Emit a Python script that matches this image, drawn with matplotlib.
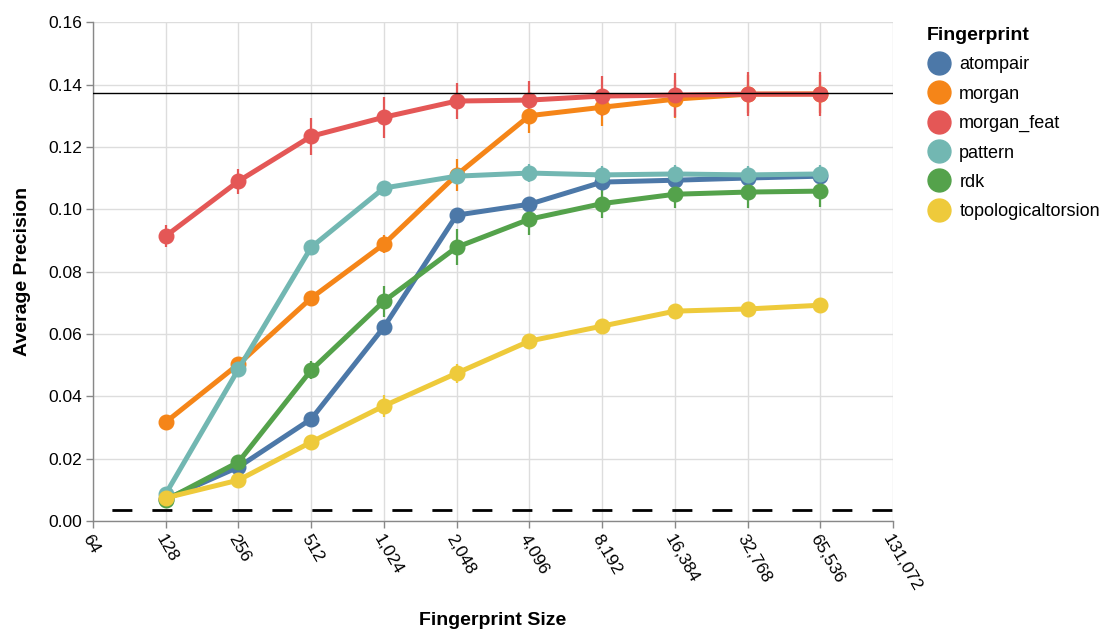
import numpy as np
import matplotlib.pyplot as plt
from matplotlib.lines import Line2D
from matplotlib.ticker import FixedLocator, FuncFormatter

plt.rcParams['font.family'] = ['Liberation Sans', 'DejaVu Sans']

# fingerprint sizes (bits) and mean average precision per fingerprint type
sizes = [128, 256, 512, 1024, 2048, 4096, 8192, 16384, 32768, 65536]
names = ['atompair', 'morgan', 'morgan_feat', 'pattern', 'rdk', 'topologicaltorsion']
colors = ['#4c78a8', '#f58518', '#e45756', '#72b7b2', '#54a24b', '#eeca3b']

atompair = [0.0070, 0.0173, 0.0327, 0.0622, 0.0981, 0.1016, 0.1087, 0.1093, 0.1100, 0.1106]
morgan = [0.0317, 0.0503, 0.0715, 0.0888, 0.1110, 0.1300, 0.1327, 0.1353, 0.1369, 0.1370]
morgan_feat = [0.0914, 0.1090, 0.1234, 0.1295, 0.1347, 0.1350, 0.1363, 0.1366, 0.1369, 0.1369]
pattern = [0.0087, 0.0487, 0.0878, 0.1068, 0.1106, 0.1116, 0.1110, 0.1113, 0.1110, 0.1113]
rdk = [0.0067, 0.0189, 0.0484, 0.0705, 0.0878, 0.0968, 0.1018, 0.1048, 0.1055, 0.1058]
topologicaltorsion = [0.0074, 0.0131, 0.0253, 0.0369, 0.0474, 0.0577, 0.0625, 0.0673, 0.0680, 0.0692]

# half-width of the error bars
atompair_err = [0.001, 0.001, 0.0015, 0.002, 0.002, 0.002, 0.002, 0.002, 0.002, 0.002]
morgan_err = [0.001, 0.002, 0.002, 0.003, 0.005, 0.0055, 0.006, 0.006, 0.006, 0.006]
morgan_feat_err = [0.0035, 0.004, 0.006, 0.0066, 0.0058, 0.006, 0.0064, 0.007, 0.0071, 0.0071]
pattern_err = [0.001, 0.002, 0.002, 0.002, 0.002, 0.003, 0.003, 0.003, 0.003, 0.003]
rdk_err = [0.001, 0.002, 0.003, 0.005, 0.0058, 0.005, 0.0045, 0.0045, 0.005, 0.005]
topologicaltorsion_err = [0.001, 0.001, 0.002, 0.0035, 0.003, 0.002, 0.002, 0.002, 0.002, 0.002]

series = [atompair, morgan, morgan_feat, pattern, rdk, topologicaltorsion]
errors = [atompair_err, morgan_err, morgan_feat_err, pattern_err, rdk_err, topologicaltorsion_err]

best_line = 0.1372   # horizontal reference (best score)
baseline = 0.0035    # dashed random baseline

fig = plt.figure(figsize=(11.02, 6.33), dpi=100)
ax = fig.add_axes([0.0844, 0.177, 0.726, 0.788])

for vals, errs, c in zip(series, errors, colors):
    ax.errorbar(sizes, vals, yerr=errs, color=c, lw=3.6, marker='o', ms=10.5,
                elinewidth=1.6, capsize=0, zorder=3)

ax.axhline(best_line, color='black', lw=1, zorder=4)
ax.axhline(baseline, color='black', lw=2, ls=(7.6, (7.2, 7.2)), zorder=4)

ax.set_xscale('log', base=2)
ax.set_xlim(64, 131072)
ax.set_ylim(0, 0.16)
xt = [2 ** k for k in range(6, 18)]
ax.xaxis.set_major_locator(FixedLocator(xt))
ax.xaxis.set_minor_locator(FixedLocator([]))
ax.xaxis.set_major_formatter(FuncFormatter(lambda v, p: f'{int(round(v)):,}'))
ax.set_yticks(np.arange(0, 0.161, 0.02))
ax.yaxis.set_major_formatter(FuncFormatter(lambda v, p: f'{v:.2f}'))

ax.grid(True, color='#dddddd', lw=1, zorder=0)
ax.set_axisbelow(True)
for s in ['top', 'right']:
    ax.spines[s].set_visible(False)
for s in ['left', 'bottom']:
    ax.spines[s].set_color('#888888')
    ax.spines[s].set_linewidth(1)
ax.tick_params(colors='#888888', labelcolor='black', labelsize=12.5, length=5, width=1, pad=3)

for lab in ax.get_xticklabels():
    lab.set_rotation(-60)
    lab.set_ha('left')
    lab.set_va('top')
    lab.set_rotation_mode('anchor')

ax.set_xlabel('Fingerprint Size', fontsize=14, fontweight='bold', va='center')
ax.xaxis.set_label_coords(0.5, -0.2)
ax.set_ylabel('Average Precision', fontsize=14, fontweight='bold', va='center')
ax.yaxis.set_label_coords(-0.088, 0.5)

handles = [Line2D([0], [0], ls='none', marker='o', ms=16.5, color=c) for c in colors]
fig.legend(handles, names, title='Fingerprint', loc='upper left',
           bbox_to_anchor=(0.841, 0.957), frameon=False, alignment='left',
           fontsize=13, title_fontproperties={'weight': 'bold', 'size': 14},
           borderpad=0, borderaxespad=0, handletextpad=0.5, labelspacing=0.68,
           handlelength=1.3)

fig.savefig('out.png', dpi=100)
